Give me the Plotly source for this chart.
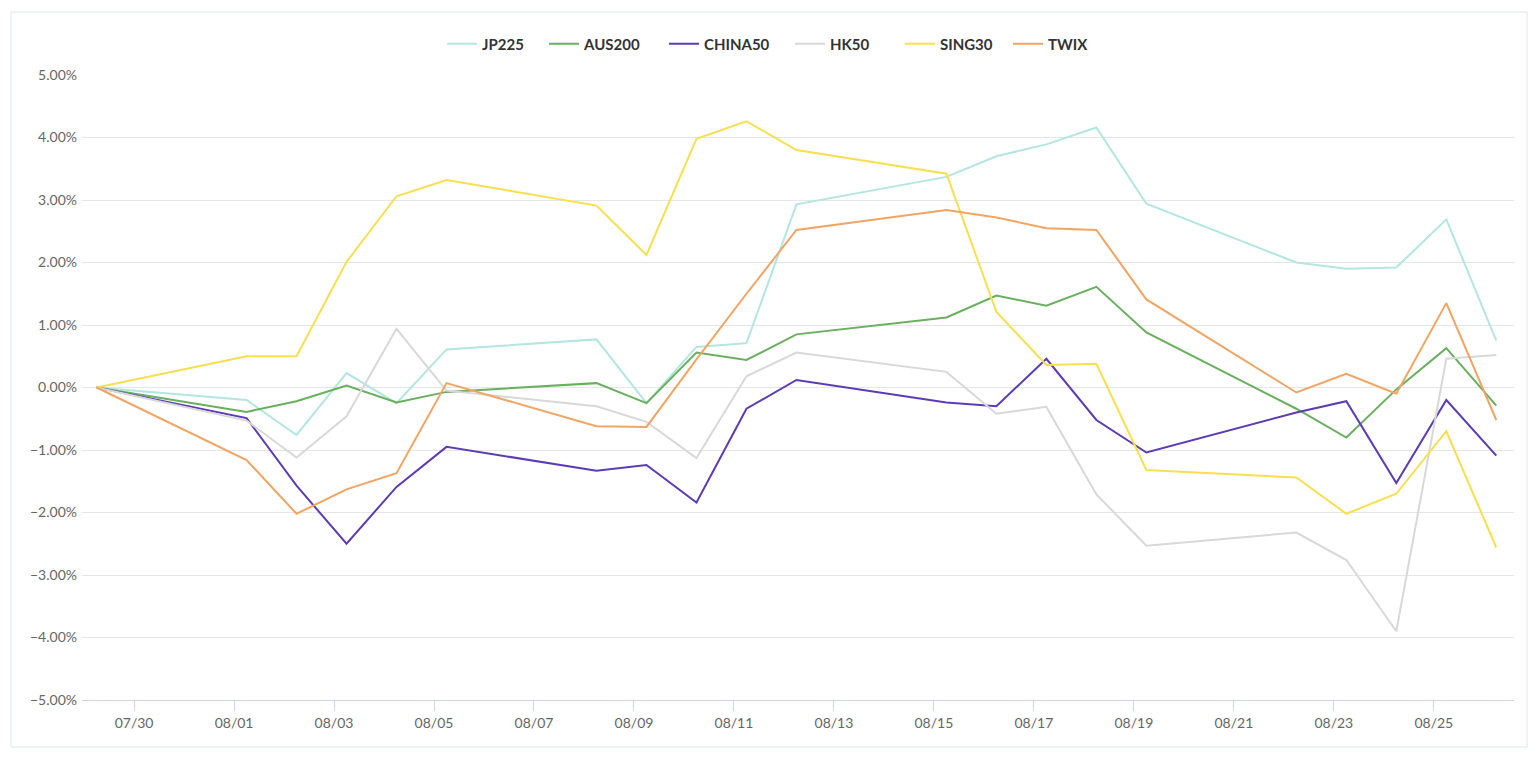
import plotly.graph_objects as go

# trading days (points sit ~6h after midnight in the original)
dates = ["2022-07-29", "2022-08-01", "2022-08-02", "2022-08-03", "2022-08-04",
         "2022-08-05", "2022-08-08", "2022-08-09", "2022-08-10", "2022-08-11",
         "2022-08-12", "2022-08-15", "2022-08-16", "2022-08-17", "2022-08-18",
         "2022-08-19", "2022-08-22", "2022-08-23", "2022-08-24", "2022-08-25",
         "2022-08-26"]

jp225 = [0, -0.20, -0.76, 0.23, -0.25, 0.61, 0.77, -0.25, 0.65, 0.71, 2.93,
         3.37, 3.70, 3.89, 4.16, 2.94, 2.00, 1.90, 1.92, 2.69, 0.75]
aus200 = [0, -0.39, -0.22, 0.03, -0.24, -0.07, 0.07, -0.25, 0.56, 0.44, 0.85,
          1.12, 1.47, 1.31, 1.61, 0.88, -0.34, -0.80, -0.03, 0.63, -0.29]
china50 = [0, -0.49, -1.57, -2.50, -1.59, -0.95, -1.33, -1.24, -1.84, -0.34, 0.12,
           -0.24, -0.30, 0.46, -0.52, -1.04, -0.40, -0.22, -1.53, -0.20, -1.09]
hk50 = [0, -0.53, -1.12, -0.46, 0.94, -0.05, -0.30, -0.55, -1.13, 0.18, 0.56,
        0.25, -0.42, -0.31, -1.71, -2.53, -2.32, -2.76, -3.90, 0.46, 0.52]
sing30 = [0, 0.50, 0.50, 2.01, 3.06, 3.32, 2.91, 2.12, 3.98, 4.26, 3.80,
          3.42, 1.21, 0.36, 0.38, -1.32, -1.44, -2.02, -1.70, -0.70, -2.56]
twix = [0, -1.16, -2.02, -1.63, -1.37, 0.07, -0.62, -0.63, 0.45, 1.50, 2.52,
        2.84, 2.72, 2.55, 2.52, 1.41, -0.08, 0.22, -0.10, 1.35, -0.52]

series = [("JP225", jp225, "#b2e6de"),
          ("AUS200", aus200, "#68b05d"),
          ("CHINA50", china50, "#5c3bb5"),
          ("HK50", hk50, "#d8d8d8"),
          ("SING30", sing30, "#f9df4e"),
          ("TWIX", twix, "#f2a462")]

# left edge (px) of each legend entry, one legend per series for spacing
legend_left = [434, 536, 656, 782, 892, 1000]

x = [d + " 06:00" for d in dates]

fig = go.Figure()
legends = {}
for i, (name, vals, col) in enumerate(series):
    lg = "legend" if i == 0 else f"legend{i + 1}"
    fig.add_trace(go.Scatter(x=x, y=vals, name=name, mode="lines",
                             legend=lg, line=dict(color=col, width=2)))
    legends[lg] = dict(orientation="h", xref="container", yref="container",
                       x=legend_left[i] / 1538, xanchor="left",
                       y=0.9526, yanchor="middle", itemwidth=30,
                       bgcolor="rgba(0,0,0,0)",
                       font=dict(size=15, color="#333333", weight=700))

# page body adds an 8px offset, margins compensate for it
fig.update_layout(
    width=1538, height=760,
    margin=dict(l=74, r=32, t=67, b=68, autoexpand=False),
    paper_bgcolor="white", plot_bgcolor="white",
    font=dict(family="Lato, Open Sans, sans-serif", size=14, color="#666666"),
    showlegend=True,
    **legends,
)

fig.update_xaxes(
    type="date", range=["2022-07-28 23:00", "2022-08-26 14:30"],
    tick0="2022-07-30", dtick=2 * 86400000, tickformat="%m/%d",
    showgrid=False, showline=True, linecolor="#ccd6eb", linewidth=1,
    ticks="outside", ticklen=10, tickcolor="#ccd6eb", automargin=False,
    tickfont=dict(size=14, color="#666666"), zeroline=False,
)
fig.update_yaxes(
    range=[-5, 5], dtick=1, tickformat=".2f", ticksuffix="%",
    showgrid=True, gridcolor="#e6e6e6", gridwidth=1, zeroline=False,
    showline=False, ticks="", ticklabelstandoff=4, automargin=False,
    tickfont=dict(size=14, color="#666666"),
)

# light frame around the whole chart
fig.add_shape(type="rect", xref="paper", yref="paper",
              x0=-0.0496, x1=1.0091, y0=-0.0752, y1=1.1008,
              line=dict(color="#dde7e9", width=1), layer="below")

fig.write_html("out.html")
